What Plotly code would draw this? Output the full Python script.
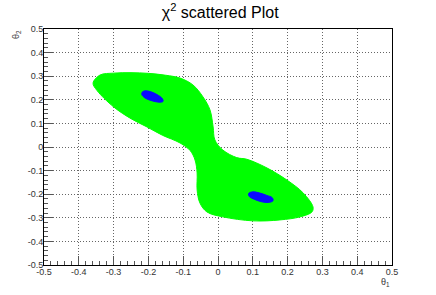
import plotly.graph_objects as go

# Outline of the green (large-chi2 allowed) region
green_x = [-0.359, -0.339, -0.30, -0.25, -0.20, -0.15, -0.109, -0.072, -0.043, -0.023, -0.014,
           -0.009, 0.014, 0.054, 0.083, 0.141, 0.198, 0.245, 0.273, 0.27, 0.236, 0.178, 0.101,
           0.014, -0.032, -0.052, -0.06, -0.06, -0.066, -0.08, -0.109, -0.16, -0.204, -0.25,
           -0.30, -0.348]
green_y = [0.271, 0.305, 0.313, 0.315, 0.312, 0.304, 0.292, 0.263, 0.212, 0.157, 0.085,
           0.03, -0.013, -0.045, -0.052, -0.089, -0.14, -0.195, -0.254, -0.275, -0.296, -0.309, -0.313,
           -0.296, -0.275, -0.237, -0.182, -0.11, -0.055, -0.015, 0.017, 0.05, 0.085, 0.12,
           0.17, 0.24]

# Outlines of the two blue (small-chi2) clusters
blue1_x = [-0.218, -0.21, -0.195, -0.175, -0.16, -0.158, -0.17, -0.19, -0.21, -0.219]
blue1_y = [0.232, 0.238, 0.235, 0.222, 0.205, 0.193, 0.19, 0.196, 0.208, 0.222]
blue2_x = [0.088, 0.10, 0.12, 0.14, 0.156, 0.158, 0.145, 0.125, 0.105, 0.09]
blue2_y = [-0.197, -0.19, -0.195, -0.205, -0.215, -0.228, -0.235, -0.232, -0.222, -0.21]

tick_vals = [-0.5, -0.4, -0.3, -0.2, -0.1, 0, 0.1, 0.2, 0.3, 0.4, 0.5]
tick_text = ["-0.5", "-0.4", "-0.3", "-0.2", "-0.1", "0", "0.1", "0.2", "0.3", "0.4", "0.5"]

FONT = "Liberation Sans, Arial, sans-serif"

fig = go.Figure()
fig.add_trace(go.Scatter(x=green_x + green_x[:1], y=green_y + green_y[:1], mode="lines",
                         fill="toself", fillcolor="#00ff00", line=dict(color="#00ff00", width=1, shape="spline"),
                         hoverinfo="skip", showlegend=False))
for bx, by in [(blue1_x, blue1_y), (blue2_x, blue2_y)]:
    fig.add_trace(go.Scatter(x=bx + bx[:1], y=by + by[:1], mode="lines", fill="toself",
                             fillcolor="#0a0aff", line=dict(color="#0a0aff", width=1, shape="spline"),
                             hoverinfo="skip", showlegend=False))

axis_common = dict(
    range=[-0.5, 0.5], tickvals=tick_vals, ticktext=tick_text,
    showgrid=True, gridcolor="#666666", griddash="1px,2px", gridwidth=1,
    zeroline=False, showline=True, linecolor="black", linewidth=1, mirror=True,
    ticks="inside", ticklen=9, tickcolor="#555555", tickwidth=1,
    minor=dict(ticks="inside", ticklen=4, dtick=0.02, tickcolor="#555555", showgrid=False),
    tickfont=dict(family=FONT, size=9, color="#333333"),
    ticklabelstandoff=-2,
)
fig.update_xaxes(**axis_common)
fig.update_yaxes(**axis_common)

fig.update_layout(
    width=436, height=295,
    margin=dict(l=44, r=44, t=29, b=30, autoexpand=False),
    paper_bgcolor="white", plot_bgcolor="white",
    title=dict(text="χ<sup>2</sup> scattered Plot", x=0.505, xanchor="center", y=0.977, yanchor="top",
               font=dict(family=FONT, size=16, color="black")),
    annotations=[
        dict(text="θ<sub>1</sub>", xref="paper", yref="paper", x=1.0, y=-0.042, xanchor="right",
             yanchor="top", showarrow=False,
             font=dict(family=FONT, size=9, color="#333333")),
        dict(text="θ<sub>2</sub>", xref="paper", yref="paper", x=-0.077, y=0.975, xanchor="center",
             yanchor="middle", textangle=-90, showarrow=False,
             font=dict(family=FONT, size=9, color="#333333")),
    ],
)

fig.write_html("out.html", config={"displayModeBar": False},
               post_script="document.body.style.margin='0';")
